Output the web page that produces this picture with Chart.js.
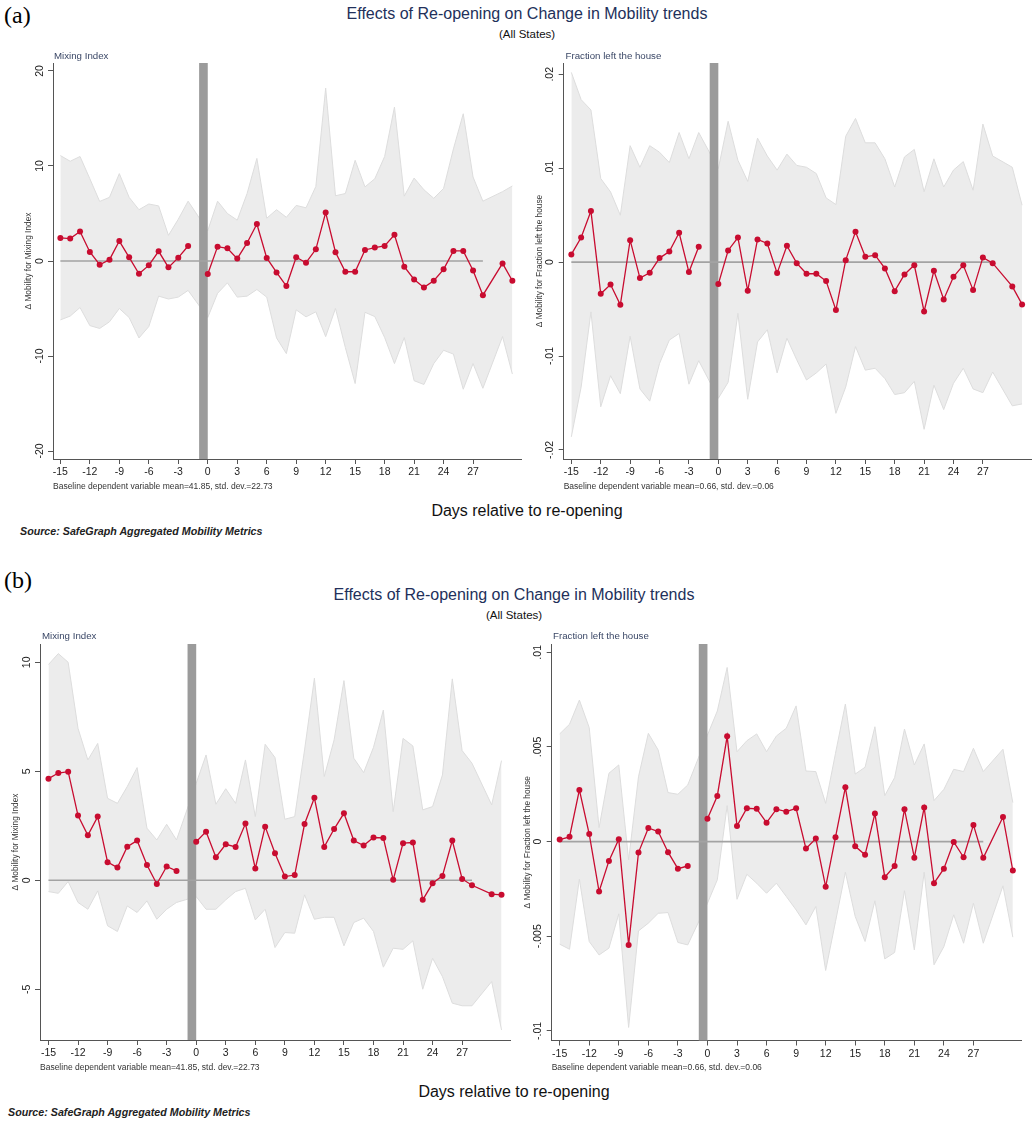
<!DOCTYPE html>
<html><head><meta charset="utf-8">
<script src="https://cdn.jsdelivr.net/npm/chart.js@4"></script>
<style>
body{margin:0;background:#fff;}
#page{position:relative;width:1035px;height:1124px;overflow:hidden;font-family:"Liberation Sans",Arial,sans-serif;}
.t{position:absolute;white-space:nowrap;line-height:1.15;}
canvas{position:absolute;}
</style></head><body><div id="page"></div>
<script>
// ---------- data ----------
const DAYS = [-15,-14,-13,-12,-11,-10,-9,-8,-7,-6,-5,-4,-3,-2,-1,0,1,2,3,4,5,6,7,8,9,10,11,12,13,14,15,16,17,18,19,20,21,22,23,24,25,26,27,28,29,30,31];
const X_TICKS = [-15,-12,-9,-6,-3,0,3,6,9,12,15,18,21,24,27];
const ZERO_LINE_DAYS = [-15, 28];
const BAR_DAYS = [-0.88, 0];
const FRAC_UNIT = 0.001; // fraction series below are in units of 0.001

// (a) Mixing Index
const mixA   = [2.43,2.36,3.1,0.95,-0.39,0.14,2.1,0.39,-1.34,-0.46,1.02,-0.67,0.35,1.58,null,-1.37,1.51,1.34,0.25,1.9,3.9,0.32,-1.2,-2.64,0.39,-0.18,1.23,5.1,0.92,-1.13,-1.13,1.16,1.41,1.58,2.75,-0.6,-1.94,-2.78,-2.08,-0.88,1.06,1.06,-0.99,-3.6,null,-0.25,-2.08];
const mixAHi = [11.1,10.5,11.0,8.66,6.27,6.7,9.2,6.7,5.4,6.0,5.8,2.7,4.4,6.3,null,3.2,6.3,5.0,4.3,7.1,10.8,4.5,5.4,4.6,5.85,5.6,7.85,18.2,6.87,7.1,10.6,7.8,8.66,11.0,16.2,6.83,8.73,7.5,6.6,7.64,11.8,15.5,8.84,6.3,null,7.3,7.9];
const mixALo = [-6.2,-5.8,-4.9,-6.8,-7.1,-6.4,-5.0,-5.95,-8.1,-6.9,-3.7,-4.0,-3.8,-3.1,null,-5.95,-3.4,-2.3,-3.8,-3.7,-3.0,-3.8,-8.1,-9.75,-5.14,-5.88,-5.35,-7.96,-5.0,-9.1,-12.9,-5.4,-5.85,-8.06,-10.8,-8.06,-12.6,-13.0,-10.8,-9.4,-9.8,-13.5,-10.8,-13.4,null,-7.96,-11.9];
// (a) Fraction left the house
const fracA   = [0.82,2.62,5.43,-3.37,-2.38,-4.54,2.34,-1.70,-1.13,0.43,1.13,3.12,-1.06,1.63,null,-2.34,1.24,2.62,-3.05,2.41,1.99,-1.17,1.74,-0.11,-1.24,-1.24,-2.02,-5.1,0.21,3.23,0.57,0.74,-0.67,-3.09,-1.31,-0.32,-5.25,-0.92,-3.97,-1.56,-0.32,-2.98,0.5,-0.11,null,-2.59,-4.5];
const fracAHi = [20.2,17.3,16.2,8.9,7.48,5.0,12.4,10.1,12.4,11.7,10.6,13.8,11.0,13.8,null,9.96,15.0,10.85,8.6,13.2,11.3,9.8,11.5,10.3,10.1,9.43,6.84,6.13,13.4,15.3,12.7,12.7,11.0,8.0,11.2,12.0,7.5,11.0,8.0,9.8,10.7,7.66,14.7,11.3,null,10.1,6.06];
const fracALo = [-18.6,-13.3,-5.3,-15.4,-12.1,-14.0,-7.9,-13.5,-14.8,-10.8,-8.3,-7.6,-13.0,-10.5,null,-14.5,-12.8,-5.46,-14.6,-8.5,-7.2,-11.8,-8.1,-10.4,-12.55,-11.8,-10.85,-16.1,-13.3,-9.0,-11.5,-11.3,-12.4,-14.1,-13.9,-12.7,-17.8,-13.1,-15.7,-12.9,-11.3,-13.5,-13.9,-11.7,null,-15.3,-15.1];
// (b) Mixing Index
const mixB   = [4.66,4.92,4.98,2.97,2.06,2.92,0.83,0.58,1.54,1.82,0.70,-0.17,0.63,0.43,null,1.77,2.23,1.06,1.65,1.53,2.6,0.54,2.46,1.24,0.17,0.24,2.58,3.78,1.53,2.35,3.07,1.82,1.59,1.96,1.94,0.02,1.70,1.73,-0.9,-0.14,0.2,1.82,0.06,-0.23,null,-0.64,-0.67];
const mixBHi = [9.9,10.4,10.0,6.97,5.52,6.28,3.76,3.53,4.3,5.17,2.39,1.85,2.57,1.85,null,4.45,5.75,3.49,4.2,3.53,5.52,2.92,6.24,5.63,2.8,2.92,5.98,9.27,4.76,6.44,9.16,5.6,4.94,6.1,7.81,3.15,6.51,6.16,3.23,3.38,4.83,9.24,5.95,5.37,null,3.46,5.49];
const mixBLo = [-0.52,-0.6,-0.06,-1.02,-1.33,-0.49,-2.09,-2.35,-1.18,-1.48,-0.95,-1.79,-1.33,-1.02,null,-0.75,-1.33,-1.33,-0.9,-0.52,-0.37,-1.82,-1.33,-3.09,-2.4,-2.43,-0.67,-1.79,-1.7,-1.7,-3.01,-1.94,-1.74,-2.35,-3.99,-3.12,-3.17,-2.78,-5.0,-3.58,-4.42,-5.64,-5.76,-5.76,null,-4.65,-6.87];
// (b) Fraction left the house
const fracB   = [0.11,0.25,2.73,0.40,-2.64,-1.02,0.12,-5.46,-0.58,0.72,0.53,-0.56,-1.43,-1.29,null,1.21,2.41,5.56,0.83,1.76,1.73,1.0,1.71,1.58,1.76,-0.37,0.16,-2.39,0.23,2.87,-0.25,-0.7,1.48,-1.88,-1.29,1.71,-0.85,1.8,-2.2,-1.43,-0.02,-0.83,0.88,-0.86,null,1.3,-1.53];
const fracBHi = [5.69,6.2,7.48,6.02,0.74,3.61,4.05,-0.97,3.43,5.72,4.84,2.59,2.5,2.99,null,5.63,6.9,9.2,4.75,5.33,5.69,4.75,5.58,5.99,7.17,3.73,3.7,2.02,4.67,7.27,3.57,3.93,6.07,2.43,3.38,5.95,4.05,5.16,2.17,2.76,3.82,3.7,4.93,3.7,null,4.88,2.06];
const fracBLo = [-5.42,-5.69,-1.99,-5.28,-5.99,-5.63,-3.82,-9.82,-4.72,-4.31,-3.79,-3.75,-5.33,-5.46,null,-3.26,-2.02,1.9,-3.05,-1.73,-2.2,-2.73,-2.2,-2.9,-3.61,-4.4,-3.43,-6.81,-4.23,-1.62,-3.96,-5.28,-3.13,-6.2,-5.86,-2.6,-5.72,-1.62,-6.51,-5.55,-3.87,-5.37,-3.26,-5.37,null,-2.34,-5.05];

const MIX_TICKS_A = [-20,-10,0,10,20];
const MIX_LABELS_A = ['-20','-10','0','10','20'];
const FRAC_TICKS_A = [-0.02,-0.01,0,0.01,0.02];
const FRAC_LABELS_A = ['-.02','-.01','0','.01','.02'];
const MIX_TICKS_B = [-5,0,5,10];
const MIX_LABELS_B = ['-5','0','5','10'];
const FRAC_TICKS_B = [-0.01,-0.005,0,0.005,0.01];
const FRAC_LABELS_B = ['-.01','-.005','0','.005','.01'];

const TITLE = 'Effects of Re-opening on Change in Mobility trends';
const SUBTITLE = '(All States)';
const XTITLE = 'Days relative to re-opening';
const SOURCE = 'Source: SafeGraph Aggregated Mobility Metrics';
const BASE_MIX = 'Baseline dependent variable mean=41.85, std. dev.=22.73';
const BASE_FRAC = 'Baseline dependent variable mean=0.66, std. dev.=0.06';
const YT_MIX = 'Δ Mobility for Mixing Index';
const YT_FRAC = 'Δ Mobility for Fraction left the house';

// ---------- styles ----------
const FONT = '"Liberation Sans", Arial, sans-serif';
const RED = 'rgb(200,12,48)';
const BAND = '#ececec';
const BAND_EDGE = '#dddddd';
const AXIS = '#555555';

const page = document.getElementById('page');
function addText(txt, x, y, o) {
  const d = document.createElement('div');
  d.className = 't';
  d.textContent = txt;
  d.style.left = x + 'px';
  d.style.top = y + 'px';
  d.style.fontSize = o.size + 'px';
  d.style.color = o.color || '#111';
  if (o.family) d.style.fontFamily = o.family;
  if (o.italic) d.style.fontStyle = 'italic';
  if (o.bold) d.style.fontWeight = 'bold';
  d.style.transform = o.center ? 'translate(-50%,-50%)' : 'translate(0,-50%)';
  page.appendChild(d);
}

function pts(arr, unit) {
  return DAYS.map((d, i) => ({x: d, y: arr[i] === null ? null : arr[i] * unit})).filter(p => p.y !== null);
}

const decor = {
  id: 'decor',
  afterDatasetDraw(chart, args, opts) {
    if (args.index !== 1) return;
    const {ctx, chartArea: a, scales: {x}} = chart;
    const x0 = x.getPixelForValue(BAR_DAYS[0]), x1 = x.getPixelForValue(BAR_DAYS[1]);
    ctx.save();
    ctx.fillStyle = '#9b9b9b';
    ctx.fillRect(x0, a.top, x1 - x0, a.bottom - a.top);
    ctx.restore();
  },
  afterDraw(chart, args, opts) {
    const {ctx, scales: {y}} = chart;
    ctx.save();
    ctx.font = '10.5px ' + FONT;
    ctx.fillStyle = '#222';
    ctx.textAlign = 'center';
    ctx.textBaseline = 'alphabetic';
    opts.ticks.forEach((v, i) => {
      const py = y.getPixelForValue(v);
      ctx.save();
      ctx.translate(y.right - 10.5, py);
      ctx.rotate(-Math.PI / 2);
      ctx.fillText(opts.labels[i], 0, 0);
      ctx.restore();
    });
    ctx.restore();
  }
};

function panel(c) {
  const cv = document.createElement('canvas');
  cv.width = c.W; cv.height = c.H;
  cv.style.left = c.L + 'px'; cv.style.top = c.T + 'px';
  cv.style.width = c.W + 'px'; cv.style.height = c.H + 'px';
  page.appendChild(cv);
  new Chart(cv, {
    type: 'line',
    data: {datasets: [
      {data: pts(c.hi, c.unit), borderColor: BAND_EDGE, borderWidth: 1, backgroundColor: BAND, fill: '+1', pointRadius: 0, order: 4, tension: 0},
      {data: pts(c.lo, c.unit), borderColor: BAND_EDGE, borderWidth: 1, backgroundColor: BAND, fill: false, pointRadius: 0, order: 3, tension: 0},
      {data: ZERO_LINE_DAYS.map(d => ({x: d, y: 0})), borderColor: '#a3a3a3', borderWidth: 1.6, pointRadius: 0, fill: false, order: 2},
      {data: pts(c.mid, c.unit), borderColor: RED, borderWidth: 1.3, pointRadius: 3, pointBackgroundColor: RED, pointBorderWidth: 0, fill: false, order: 1, tension: 0,
       segment: {borderColor: s => (s.p0.parsed.x < -0.5 && s.p1.parsed.x > -0.5) ? 'rgba(0,0,0,0)' : RED}}
    ]},
    options: {
      responsive: false, animation: false, devicePixelRatio: 1,
      events: [],
      layout: {padding: {left: 0, top: c.aT - c.T, right: (c.L + c.W) - c.aR, bottom: 0}},
      plugins: {legend: {display: false}, tooltip: {enabled: false}, title: {display: false},
        decor: {ticks: c.yt, labels: c.yl}},
      scales: {
        x: {type: 'linear', min: c.xmin, max: c.xmax,
          afterBuildTicks: s => { s.ticks = X_TICKS.map(v => ({value: v})); },
          afterFit: s => { s.height = (c.T + c.H) - c.aB; },
          grid: {display: true, drawOnChartArea: false, drawTicks: true, tickLength: 5, color: AXIS, lineWidth: 1},
          border: {display: true, color: AXIS, width: 1},
          ticks: {font: {size: 10.5, family: FONT}, color: '#222', padding: 2, maxRotation: 0, minRotation: 0, autoSkip: false, callback: v => String(v)},
          title: {display: true, text: c.base, align: 'start', font: {size: 8.5, family: FONT}, color: '#333', padding: {top: 0, bottom: 3}}
        },
        y: {type: 'linear', min: c.ymin, max: c.ymax,
          afterBuildTicks: s => { s.ticks = c.yt.map(v => ({value: v})); },
          afterFit: s => { s.width = c.aL - c.L; },
          grid: {display: true, drawOnChartArea: false, drawTicks: true, tickLength: 5, color: AXIS, lineWidth: 1},
          border: {display: true, color: AXIS, width: 1},
          ticks: {display: false},
          title: {display: true, text: c.ytitle, font: {size: 8.3, family: FONT}, color: '#333', padding: {top: c.aL - c.L - 24 - 5, bottom: 0}}
        }
      }
    },
    plugins: [decor]
  });
}

Chart.defaults.font.family = FONT;

// ---------- panel (a) ----------
panel({L: 0, T: 58, W: 530, H: 437, aL: 53, aT: 63, aR: 521.7, aB: 459,
  xmin: -15.75, xmax: 31.95, ymin: -20.84, ymax: 20.84, yt: MIX_TICKS_A, yl: MIX_LABELS_A,
  ytitle: YT_MIX, base: BASE_MIX, mid: mixA, hi: mixAHi, lo: mixALo, unit: 1});
panel({L: 530, T: 58, W: 505, H: 437, aL: 563.7, aT: 63, aR: 1033, aB: 459,
  xmin: -15.78, xmax: 31.91, ymin: -0.02096, ymax: 0.0212, yt: FRAC_TICKS_A, yl: FRAC_LABELS_A,
  ytitle: YT_FRAC, base: BASE_FRAC, mid: fracA, hi: fracAHi, lo: fracALo, unit: FRAC_UNIT});
// ---------- panel (b) ----------
panel({L: 0, T: 639, W: 520, H: 437, aL: 40, aT: 644, aR: 510, aB: 1040,
  xmin: -15.86, xmax: 31.86, ymin: -7.33, ymax: 10.84, yt: MIX_TICKS_B, yl: MIX_LABELS_B,
  ytitle: YT_MIX, base: BASE_MIX, mid: mixB, hi: mixBHi, lo: mixBLo, unit: 1});
panel({L: 520, T: 639, W: 515, H: 437, aL: 551.7, aT: 644, aR: 1021.7, aB: 1040.5,
  xmin: -15.81, xmax: 31.9, ymin: -0.01051, ymax: 0.01044, yt: FRAC_TICKS_B, yl: FRAC_LABELS_B,
  ytitle: YT_FRAC, base: BASE_FRAC, mid: fracB, hi: fracBHi, lo: fracBLo, unit: FRAC_UNIT});

// ---------- text ----------
const SERIF = '"Liberation Serif", "Times New Roman", serif';
addText('(a)', 4, 16, {size: 24, family: SERIF, color: '#000'});
addText(TITLE, 527, 14, {size: 16, color: '#22305a', center: true});
addText(SUBTITLE, 527, 35, {size: 11.5, color: '#111', center: true});
addText('Mixing Index', 54, 56, {size: 9.7, color: '#3a4766'});
addText('Fraction left the house', 565.5, 56, {size: 9.7, color: '#3a4766'});
addText(XTITLE, 527, 511, {size: 16, color: '#111', center: true});
addText(SOURCE, 20, 531, {size: 10.7, color: '#222', italic: true, bold: true});

addText('(b)', 4, 581, {size: 24, family: SERIF, color: '#000'});
addText(TITLE, 514, 595, {size: 16, color: '#22305a', center: true});
addText(SUBTITLE, 514, 616, {size: 11.5, color: '#111', center: true});
addText('Mixing Index', 42, 636, {size: 9.7, color: '#3a4766'});
addText('Fraction left the house', 553, 636, {size: 9.7, color: '#3a4766'});
addText(XTITLE, 514, 1092, {size: 16, color: '#111', center: true});
addText(SOURCE, 8, 1112, {size: 10.7, color: '#222', italic: true, bold: true});
</script>
</body></html>
